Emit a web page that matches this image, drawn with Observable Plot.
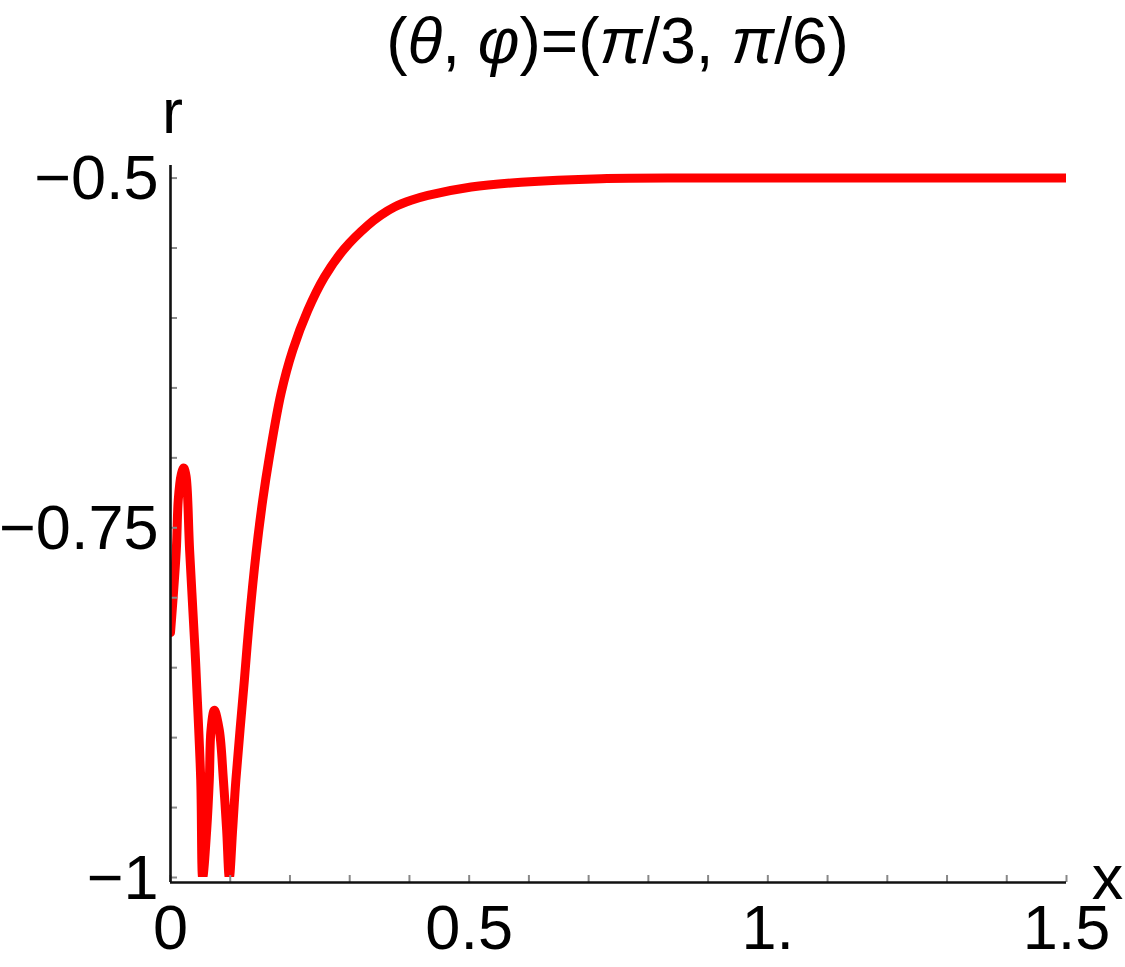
<!DOCTYPE html>
<html>
<head>
<meta charset="utf-8">
<script src="https://cdn.jsdelivr.net/npm/d3@7"></script>
<script src="https://cdn.jsdelivr.net/npm/@observablehq/plot@0.6"></script>
<style>
  html, body { margin: 0; padding: 0; background: #fff; }
  #chart { width: 1125px; height: 967px; }
  svg { font-family: "Liberation Sans", Arial, Helvetica, sans-serif; }
</style>
</head>
<body>
<div id="chart"></div>
<script>
// ---- data ----
const xValues = [0, 0.0097, 0.013, 0.018, 0.0221, 0.026, 0.032, 0.041, 0.0436, 0.0506, 0.0539,
  0.0606, 0.065, 0.0678, 0.0734, 0.0817, 0.0885, 0.094, 0.0985,
  0.104, 0.1095, 0.1236, 0.1315, 0.1432, 0.1544, 0.1655, 0.185, 0.2047, 0.2298, 0.2576, 0.2911,
  0.3303, 0.352, 0.3749, 0.4028, 0.4308, 0.5034, 0.5871, 0.7211, 0.8886, 1.2, 1.5];
const rValues = [-0.825, -0.766, -0.730, -0.712, -0.7073, -0.713, -0.766, -0.837, -0.8606, -0.930, -1.0,
  -0.966, -0.930, -0.8946, -0.8805, -0.8946, -0.930, -0.966, -1.0,
  -0.966, -0.930, -0.8592, -0.8185, -0.7684, -0.7303, -0.6994, -0.654, -0.623, -0.5946, -0.5708, -0.5505,
  -0.5338, -0.5266, -0.5207, -0.5159, -0.5124, -0.5064, -0.5029, -0.5004, -0.5, -0.5, -0.5];

const xLabelTicks = [0, 0.5, 1, 1.5];
const xLabelText = ["0", "0.5", "1.", "1.5"];
const yLabelTicks = [-1, -0.75, -0.5];
const yLabelText = ["\u22121", "\u22120.75", "\u22120.5"];
const xMinorTicks = d3.range(0, 16).map(i => i / 10);
const yMinorTicks = d3.range(0, 11).map(i => -1 + i * 0.05);
const xDomain = [0, 1.5];
const yDomain = [-1, -0.491];
const titleText = "(\u03B8, \u03C6)=(\u03C0/3, \u03C0/6)";

const data = xValues.map((x, i) => ({x, r: rValues[i]}));
const FS = 63;

const plot = Plot.plot({
  width: 1125,
  height: 967,
  marginLeft: 170,
  marginRight: 59,
  marginTop: 165,
  marginBottom: 90,
  style: {fontFamily: '"Liberation Sans", Arial, Helvetica, sans-serif', background: "#fff", overflow: "visible"},
  x: {domain: xDomain},
  y: {domain: yDomain},
  marks: [
    // curve (clipped at the plot range like the original)
    Plot.line(data, {x: "x", y: "r", stroke: "#ff0000", strokeWidth: 9, curve: "catmull-rom", clip: true, strokeLinejoin: "round"}),
    // minor/major ticks, pointing inward
    Plot.axisX({ticks: xMinorTicks, tickSize: -7, tickFormat: () => "", stroke: "#888", strokeWidth: 2, dy: 5, label: null}),
    Plot.axisY({ticks: yMinorTicks, tickSize: -7, tickFormat: () => "", stroke: "#888", strokeWidth: 2, label: null}),
    // axis lines
    Plot.ruleX([xDomain[0]], {stroke: "#111", strokeWidth: 2.6, insetBottom: -5}),
    Plot.ruleY([yDomain[0]], {stroke: "#111", strokeWidth: 2.6, dy: 5}),
    // tick labels
    Plot.text(xLabelTicks, {x: d => d, text: (d, i) => xLabelText[i], frameAnchor: "bottom", lineAnchor: "middle", dy: 51, fontSize: FS, fill: "#000"}),
    Plot.text(yLabelTicks, {y: d => d, text: (d, i) => yLabelText[i], frameAnchor: "left", textAnchor: "end", lineAnchor: "middle", dx: -12, dy: 1, fontSize: FS, fill: "#000"}),
    // axis labels
    Plot.text(["r"], {text: d => d, frameAnchor: "top-left", textAnchor: "middle", lineAnchor: "middle", dx: 2, dy: -53, fontSize: FS, fill: "#000"}),
    Plot.text(["x"], {text: d => d, frameAnchor: "bottom-right", textAnchor: "middle", lineAnchor: "middle", dx: 41, dy: 1, fontSize: FS, fill: "#000"}),
    // title
    Plot.text([titleText], {text: d => d, frameAnchor: "top", textAnchor: "middle", lineAnchor: "middle", dx: -1, dy: -123, fontSize: 64, fill: "#000"})
  ]
});

// italicise the Greek letters in the title
d3.select(plot).selectAll("text").each(function() {
  if (this.textContent === titleText) {
    const el = d3.select(this);
    el.text(null);
    const parts = [["(", false], ["\u03B8", true], [", ", false], ["\u03C6", true], [")=(", false], ["\u03C0", true], ["/3, ", false], ["\u03C0", true], ["/6)", false]];
    for (const [t, it] of parts) {
      el.append("tspan").attr("font-style", it ? "italic" : null).text(t);
    }
  }
});

document.getElementById("chart").appendChild(plot);
</script>
</body>
</html>
